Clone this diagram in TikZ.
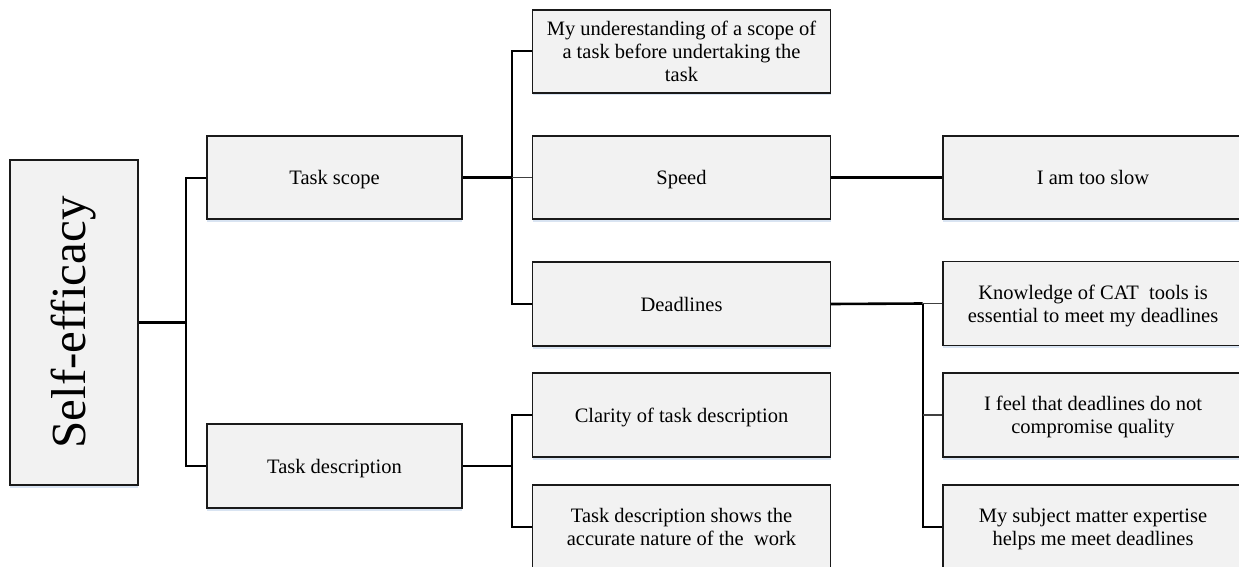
\documentclass[tikz,border=0pt]{standalone}
\usepackage{fontspec}
\setmainfont{Liberation Serif}
\usetikzlibrary{shadows}
\definecolor{boxfill}{HTML}{F2F2F2}
\definecolor{boxline}{HTML}{1A1A1A}
\definecolor{shadowtint}{HTML}{C9D9EC}
\begin{document}
\begin{tikzpicture}[x=1pt,y=-1pt,
  box/.style={draw=boxline, line width=1.2pt, fill=boxfill, align=center,
    inner sep=0pt, text depth=0pt, font=\fontsize{20.5}{23}\selectfont,
    drop shadow={shadow xshift=0pt, shadow yshift=-2.5pt, fill=shadowtint, opacity=0.7}},
  trunk/.style={line width=2.6pt, black},
  bus/.style={line width=2pt, black},
  twig/.style={line width=1.4pt, black!75}]
\useasboundingbox (0,0) rectangle (1239,567);

% root
\node[box, minimum width=128pt, minimum height=325pt] (root) at (74,322.5)
  {\rotatebox{90}{\fontsize{49}{54}\selectfont Self-efficacy}};

% first level
\node[box, minimum width=255pt, minimum height=83pt] (scope) at (334.5,177.5) {Task scope};
\node[box, minimum width=255pt, minimum height=84pt] (desc) at (334.5,466) {Task description};

% second level
\node[box, minimum width=298pt, minimum height=83pt] (under) at (681.5,51.5)
  {My underestanding of a scope of\\a task before undertaking the\\task};
\node[box, minimum width=298pt, minimum height=83pt] (speed) at (681.5,177.5) {Speed};
\node[box, minimum width=298pt, minimum height=84pt] (dead) at (681.5,304) {Deadlines};
\node[box, minimum width=298pt, minimum height=84pt] (clar) at (681.5,415) {Clarity of task description};
\node[box, minimum width=298pt, minimum height=84pt] (shows) at (681.5,527)
  {Task description shows the\\accurate nature of the\ \ work};

% third level
\node[box, minimum width=300pt, minimum height=83pt] (slow) at (1093,177.5) {I am too slow};
\node[box, minimum width=300pt, minimum height=84pt] (cat) at (1093,303.5)
  {Knowledge of CAT\ \ tools is\\essential to meet my deadlines};
\node[box, minimum width=300pt, minimum height=84pt] (qual) at (1093,415)
  {I feel that deadlines do not\\compromise quality};
\node[box, minimum width=300pt, minimum height=84pt] (expert) at (1093,527)
  {My subject matter expertise\\helps me meet deadlines};

% junction points of the connectors
\coordinate (j0) at (186,322.5);
\coordinate (j1) at (511.5,177.5);
\coordinate (j2) at (511.5,466);
\coordinate (j3) at (922.5,303.5);

% root to first level
\draw[trunk] (root.east) -- (j0);
\draw[bus] (scope.west) -| (j0) |- (desc.west);

% task scope branch
\draw[trunk] (scope.east) -- (j1);
\draw[bus] (under.west) -| (j1) |- (dead.west);
\draw[twig] (j1) -- (speed.west);

% task description branch
\draw[trunk] (desc.east) -- (j2);
\draw[bus] (clar.west) -| (j2) |- (shows.west);

% speed branch
\draw[trunk] (speed.east) -- (slow.west);

% deadlines branch
\draw[trunk] (dead.east) -- (j3);
\draw[twig] (j3) -- (cat.west);
\draw[bus] (j3) |- (expert.west);
\draw[twig] (j3 |- qual.west) -- (qual.west);
\end{tikzpicture}
\end{document}
